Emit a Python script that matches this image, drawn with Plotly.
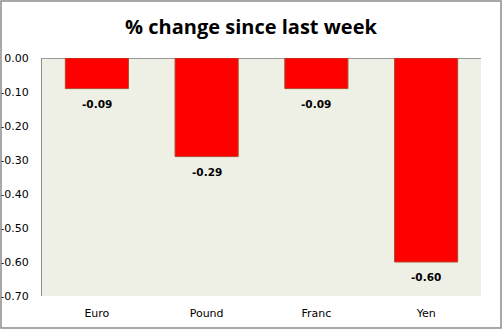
import plotly.graph_objects as go

currencies = ["Euro", "Pound", "Franc", "Yen"]
pct_change = [-0.09, -0.29, -0.09, -0.60]
y_ticks = [0.0, -0.1, -0.2, -0.3, -0.4, -0.5, -0.6, -0.7]

W, H = 502, 329
ML, MR, MT, MB = 42, 21, 58, 33
PW, PH = W - ML - MR, H - MT - MB

AXIS_FONT = dict(family="DejaVu Sans, Verdana, sans-serif", size=11, color="#000000")

fig = go.Figure(
    go.Bar(
        x=currencies,
        y=pct_change,
        width=0.575,
        marker=dict(color="#FF0000", line=dict(color="#B04A2A", width=1)),
        hoverinfo="x+y",
    )
)

# value labels just below the end of each bar
for cat, val in zip(currencies, pct_change):
    fig.add_annotation(
        x=cat, y=val, xref="x", yref="y",
        text=f"<b>{val:.2f}</b>",
        showarrow=False, yanchor="middle", yshift=-15,
        font=dict(family="DejaVu Sans, Verdana, sans-serif", size=10.5, color="#000000"),
    )

# outer chart border, expressed in paper units around the plot area
fig.add_shape(
    type="rect",
    xref="paper", yref="paper",
    x0=(-ML + 1) / PW, x1=1 + (MR - 1) / PW,
    y0=(-MB + 1) / PH, y1=1 + (MT - 1) / PH,
    line=dict(color="#8C8C8C", width=1.5),
    fillcolor="rgba(0,0,0,0)",
    layer="above",
)

fig.update_layout(
    width=W, height=H,
    margin=dict(l=ML, r=MR, t=MT, b=MB),
    paper_bgcolor="#FFFFFF",
    plot_bgcolor="#EEF0E6",
    showlegend=False,
    title=dict(
        text="<b>% change since last week</b>",
        x=0.5, xanchor="center", y=1 - 27 / H, yanchor="middle",
        font=dict(family="Open Sans, DejaVu Sans, sans-serif", size=20, color="#000000"),
    ),
    xaxis=dict(
        showgrid=False, zeroline=False, showline=False, ticks="",
        tickfont=AXIS_FONT,
        ticklabelstandoff=9,
        automargin=False,
    ),
    yaxis=dict(
        range=[-0.7, 0.0],
        tickvals=y_ticks,
        ticktext=[f"{v:.2f}" for v in y_ticks],
        showgrid=False,
        zeroline=True, zerolinecolor="#9A9A9A", zerolinewidth=1,
        showline=True, linecolor="#8C8C8C", linewidth=1,
        ticks="",
        tickfont=AXIS_FONT,
        ticklabelstandoff=10,
        automargin=False,
    ),
)

fig.write_html("out.html")
